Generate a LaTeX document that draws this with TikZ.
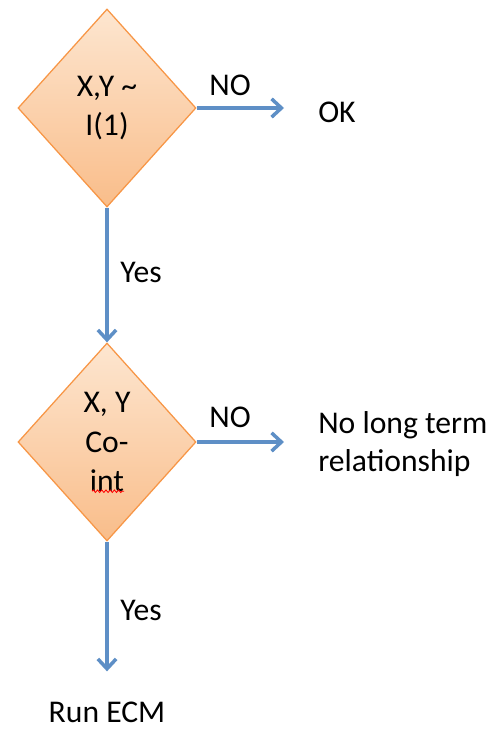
\documentclass[tikz,border=0pt]{standalone}
\usepackage{fontspec}
\setmainfont{Carlito}
\usepackage{xcolor}
\usetikzlibrary{shapes.geometric,positioning,arrows.meta,decorations.pathmorphing}
\definecolor{peachtop}{HTML}{FDE6D0}
\definecolor{peachbot}{HTML}{F9BD8A}
\definecolor{peachline}{HTML}{F79646}
\definecolor{flowblue}{HTML}{5E8FC6}
\tikzset{dec/.style={diamond,draw=peachline,line width=0.9pt,top color=peachtop,bottom color=peachbot,minimum width=4.45cm,minimum height=4.95cm,inner sep=0pt,align=center,font=\fontsize{22.5}{28}\selectfont}}
\tikzset{lbl/.style={inner sep=0pt,font=\fontsize{22.5}{28}\selectfont}}
\tikzset{flow/.style={draw=flowblue,line width=2.5pt}}

\begin{document}
\begin{tikzpicture}[>={Straight Barb[length=7pt,width=13pt,line width=2.5pt]}]
    \useasboundingbox (0,0) rectangle (12.35,-18.275);
    \node[dec] (d1) at (2.675,-2.7) {X,Y \textasciitilde\\I(1)};
    \node[dec] (d2) at (2.675,-11.05) {X, Y\\Co-\\int};

    \node[lbl,anchor=west] (ok) at (7.95,-2.8) {OK};
    \node[lbl,anchor=west,align=left,font=\fontsize{22.5}{26.5}\selectfont] (nolt) at (7.95,-11.1) {No long term\\relationship};
    \node[lbl] (ecm) at (2.675,-17.8) {Run ECM};

    \node[lbl] (no1) at (5.75,-2.125) {NO};
    \node[lbl] (yes1) at (3.525,-6.8) {Yes};
    \node[lbl] (no2) at (5.75,-10.425) {NO};
    \node[lbl] (yes2) at (3.525,-15.25) {Yes};

    \draw [flow,->,shorten >=0.85cm] (d1.east) -- (d1.east -| ok.west);
    \draw [flow,->] (d1.south) -- (d2.north);
    \draw [flow,->,shorten >=0.85cm] (d2.east) -- (d2.east -| nolt.west);
    \draw [flow,->,shorten >=0.75cm] (d2.south) -- (ecm.north);

    % spell-check squiggle under int
    \draw [red,line width=0.6pt,decorate,decoration={snake,amplitude=0.9pt,segment length=3pt}] (2.3,-12.28) -- (3.1,-12.28);
\end{tikzpicture}
\end{document}
